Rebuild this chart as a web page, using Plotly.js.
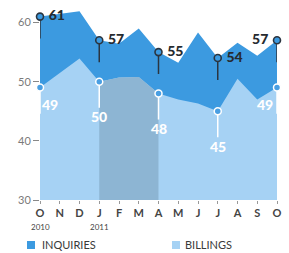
<!DOCTYPE html>
<html>
<head>
<meta charset="utf-8">
<script src="https://cdn.plot.ly/plotly-3.0.1.min.js"></script>
<style>html,body{margin:0;padding:0;background:#fff;}#chart{width:289px;height:253px;}</style>
</head>
<body>
<div id="chart"></div>
<script>
// ---- data ----
var months = ['O','N','D','J','F','M','A','M','J','J','A','S','O'];
var yearLabels = ['2010','','','2011','','','','','','','','',''];
var inquiries = [61, 61.4, 61.9, 57, 56.4, 59, 55, 53.2, 58.3, 54, 56.6, 54.4, 57];
var billings  = [49, 51.4, 53.9, 50, 50.7, 50.8, 48, 47, 46.3, 45, 50.5, 47, 49];
var highlighted = [0, 3, 6, 9, 12];
var shadedStart = 3, shadedEnd = 6;

// ---- build ----
var idx = months.map(function(_, i){ return i; });
var hx = highlighted;
var hInq = hx.map(function(i){ return inquiries[i]; });
var hBil = hx.map(function(i){ return billings[i]; });

var inqStemX = [], inqStemY = [], bilStemX = [], bilStemY = [];
hx.forEach(function(i){
  inqStemX.push(i, i, null); inqStemY.push(inquiries[i], inquiries[i] - 3.7, null);
  bilStemX.push(i, i, null); bilStemY.push(billings[i], billings[i] - 4.4, null);
});
var shX = [], shY = [];
for (var i = shadedStart; i <= shadedEnd; i++){ shX.push(i); shY.push(billings[i]); }

var INQ = '#3c9ae0', BIL = '#a6d2f4', SHADE = '#8db5d3', DARK = '#2b3540';

var traces = [
  {x: idx, y: inquiries, type:'scatter', mode:'lines', fill:'tozeroy', fillcolor: INQ, line:{width:0, color:INQ}, hoverinfo:'skip', showlegend:false},
  {x: idx, y: billings, type:'scatter', mode:'lines', fill:'tozeroy', fillcolor: BIL, line:{width:0, color:BIL}, hoverinfo:'skip', showlegend:false},
  {x: shX, y: shY, type:'scatter', mode:'lines', fill:'tozeroy', fillcolor: SHADE, line:{width:0, color:SHADE}, hoverinfo:'skip', showlegend:false},
  {x: inqStemX, y: inqStemY, type:'scatter', mode:'lines', line:{width:1.5, color:DARK}, hoverinfo:'skip', showlegend:false, cliponaxis:false},
  {x: bilStemX, y: bilStemY, type:'scatter', mode:'lines', line:{width:1.5, color:'#ffffff'}, hoverinfo:'skip', showlegend:false, cliponaxis:false},
  {x: hx, y: hInq, type:'scatter', mode:'markers+text', text: hInq.map(function(v){ return ' ' + v + ' '; }),
   textposition:['middle right','middle right','middle right','middle right','middle left'],
   textfont:{family:'Lato, sans-serif', size:14, color:'#262b30', weight:900},
   marker:{symbol:'circle', size:7, color:INQ, line:{width:1.6, color:DARK}}, cliponaxis:false, showlegend:false, hoverinfo:'skip'},
  {x: hx, y: hBil, type:'scatter', mode:'markers',
   marker:{symbol:'circle', size:7, color:'#4a9fe2', line:{width:1.5, color:'#ffffff'}}, cliponaxis:false, showlegend:false, hoverinfo:'skip'}
];

var bilLabelShift = [{x:10,y:-17},{x:0,y:-35},{x:0,y:-35},{x:0,y:-35},{x:-12,y:-17}];
var annotations = hx.map(function(i, k){
  return {x:i, y:billings[i], xref:'x', yref:'y', text:String(billings[i]), showarrow:false,
    xshift:bilLabelShift[k].x, yshift:bilLabelShift[k].y,
    font:{family:'Lato, sans-serif', size:14, color:'#ffffff', weight:900}};
});
function px2x(p){ return (p - 40) / 237; }
function py2y(p){ return (200 - p) / 197; }
// year labels under tick labels
idx.forEach(function(i){
  if (yearLabels[i]) annotations.push({x:i, xref:'x', yref:'paper', y:py2y(227), yanchor:'middle', text:yearLabels[i], showarrow:false,
    font:{family:'Lato, sans-serif', size:8, color:'#444'}});
});
// legend
annotations.push({xref:'paper', yref:'paper', x:px2x(40), y:py2y(245), xanchor:'left', yanchor:'middle', text:'INQUIRIES', showarrow:false, font:{family:'Lato, sans-serif', size:11, color:'#3a3a3a'}});
annotations.push({xref:'paper', yref:'paper', x:px2x(183), y:py2y(245), xanchor:'left', yanchor:'middle', text:'BILLINGS', showarrow:false, font:{family:'Lato, sans-serif', size:11, color:'#3a3a3a'}});
var shapes = [
  {type:'rect', xref:'paper', yref:'paper', x0:px2x(27), x1:px2x(35), y0:py2y(249), y1:py2y(241), fillcolor:INQ, line:{width:0}},
  {type:'rect', xref:'paper', yref:'paper', x0:px2x(172), x1:px2x(180), y0:py2y(249), y1:py2y(241), fillcolor:BIL, line:{width:0}}
];

var layout = {
  width:289, height:253,
  margin:{l:40, r:12, t:3, b:53},
  paper_bgcolor:'#ffffff', plot_bgcolor:'rgba(0,0,0,0)',
  showlegend:false,
  xaxis:{range:[0,12], tickvals: idx, ticktext: months, showgrid:false, zeroline:false, showline:false,
    ticks:'outside', ticklen:3, tickwidth:1, tickcolor:'#999', fixedrange:true,
    tickfont:{family:'Lato, sans-serif', size:11, color:'#444', weight:700}},
  yaxis:{range:[30,63.3], tickvals:[30,40,50,60], showgrid:false, zeroline:false, showline:false,
    ticks:'outside', ticklen:6, tickwidth:1, tickcolor:'#888',
    tickfont:{family:'Lato, sans-serif', size:11, color:'#7a7a7a'}},
  annotations: annotations,
  shapes: shapes
};
Plotly.newPlot('chart', traces, layout, {displayModeBar:false, staticPlot:true});
</script>
</body>
</html>
